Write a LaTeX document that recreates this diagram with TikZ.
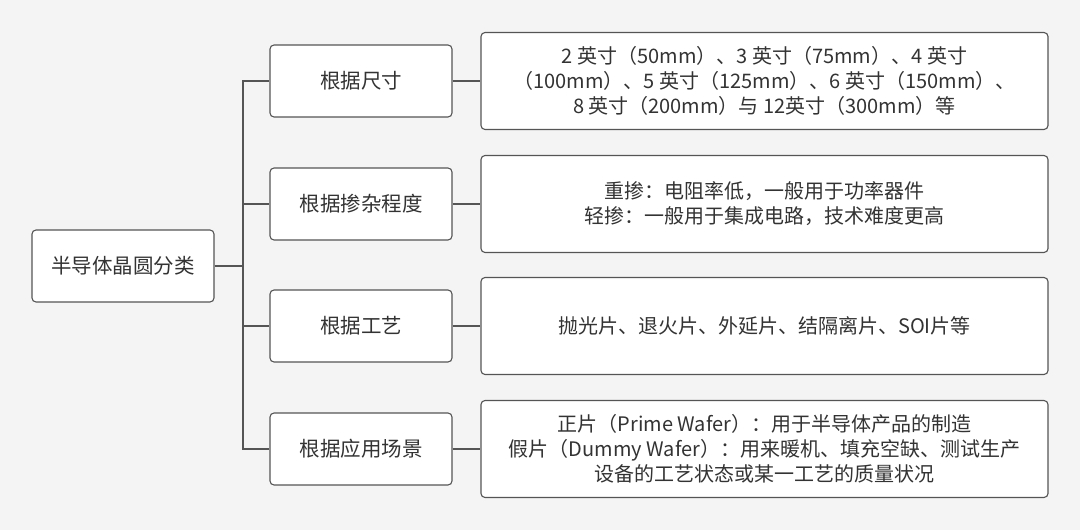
\documentclass[tikz,border=0pt]{standalone}
\usepackage{fontspec}
\setmainfont{Noto Sans CJK SC}
\definecolor{bggray}{HTML}{F4F4F4}
\definecolor{linegray}{HTML}{555555}
\definecolor{textgray}{HTML}{333333}
\begin{document}
\begin{tikzpicture}[x=1pt,y=-1pt]
        \tikzstyle{root}=[draw=linegray,line width=1.1pt,rounded corners=4pt,fill=white,text=textgray,minimum width=182pt,minimum height=72pt,font=\fontsize{20.5}{24}\selectfont,inner sep=0pt]
        \tikzstyle{kind}=[root]
        \tikzstyle{detail}=[draw=linegray,line width=1.1pt,rounded corners=4pt,fill=white,text=textgray,minimum width=567pt,minimum height=97pt,align=center,font=\fontsize{20}{25}\selectfont,inner sep=0pt]
        \tikzstyle{edge}=[draw=linegray,line width=1.1pt]
       \useasboundingbox[fill=bggray] (0,0) rectangle (1080,530);
       \begin{scope}
         \node [root] (wafer) at (123,266) {半导体晶圆分类};
         \coordinate (bus) at (243,266);

         \node [kind] (size) at (361,81) {根据尺寸};
         \node [kind] (doping) at (361,204) {根据掺杂程度};
         \node [kind] (process) at (361,326) {根据工艺};
         \node [kind] (usage) at (361,449) {根据应用场景};

         \node [detail] (sizes) at (764.5,81) {2 英寸（50mm）、3 英寸（75mm）、4 英寸\\（100mm）、5 英寸（125mm）、6 英寸（150mm）、\\8 英寸（200mm）与 12英寸（300mm）等};
         \node [detail] (dopings) at (764.5,204) {重掺：电阻率低，一般用于功率器件\\轻掺：一般用于集成电路，技术难度更高};
         \node [detail] (processes) at (764.5,326) {抛光片、退火片、外延片、结隔离片、SOI片等};
         \node [detail] (usages) at (764.5,449) {正片（Prime Wafer）：用于半导体产品的制造\\假片（Dummy Wafer）：用来暖机、填充空缺、测试生产\\设备的工艺状态或某一工艺的质量状况};

         \path[edge] (wafer) -- (bus);
         \path[edge] (bus) |- (size);
         \path[edge] (bus) |- (doping);
         \path[edge] (bus) |- (process);
         \path[edge] (bus) |- (usage);

         \path[edge] (size) -- (sizes);
         \path[edge] (doping) -- (dopings);
         \path[edge] (process) -- (processes);
         \path[edge] (usage) -- (usages);
        \end{scope}
      \end{tikzpicture}
\end{document}
